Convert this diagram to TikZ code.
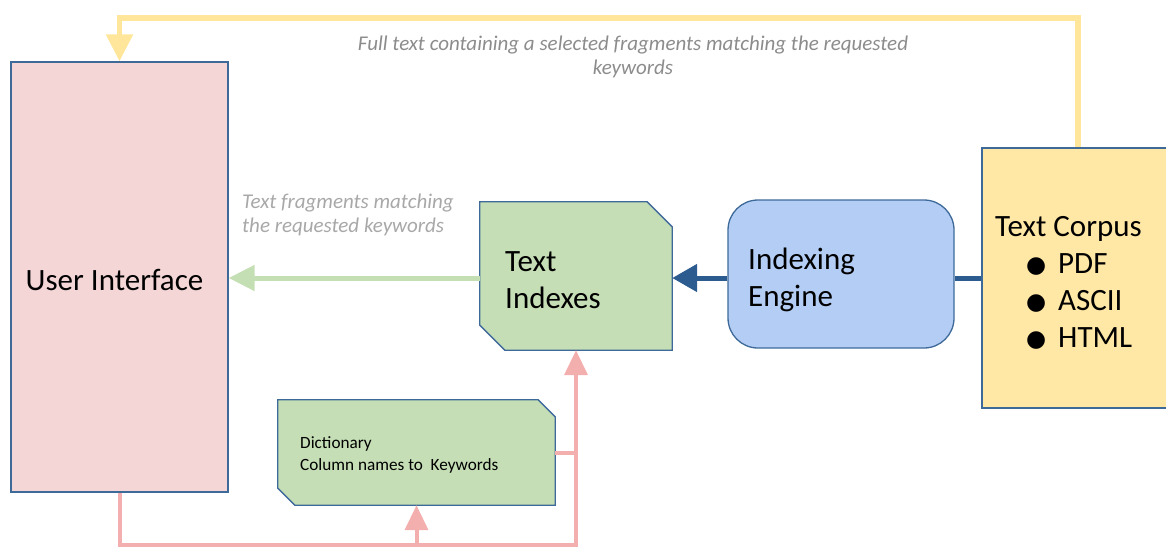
\documentclass[tikz,border=0pt]{standalone}
\usepackage{fontspec}
\setmainfont{Carlito}
\newfontfamily\symfont{DejaVu Sans}
\usetikzlibrary{arrows.meta,calc}
\pgfdeclarelayer{background}
\pgfsetlayers{background,main}

\definecolor{edgeblue}{HTML}{3E6A9A}
\definecolor{uifill}{HTML}{F5D6D6}
\definecolor{greenfill}{HTML}{C5DEB5}
\definecolor{bluefill}{HTML}{B4CDF4}
\definecolor{yellowfill}{HTML}{FFE8A6}
\definecolor{flowblue}{HTML}{2C5C8F}
\definecolor{flowgreen}{HTML}{C5DFB4}
\definecolor{flowyellow}{HTML}{FFE69A}
\definecolor{flowpink}{HTML}{F3AFAE}
\definecolor{notedark}{HTML}{8C8C8C}
\definecolor{notelight}{HTML}{A8A8A8}

\newcommand{\bigdot}{\makebox[63pt][l]{\hspace*{31pt}\raisebox{1pt}{\symfont\fontsize{23}{23}\selectfont ●}}}

\tikzset{
  bigfont/.style={font=\fontsize{31}{37}\selectfont},
  notefont/.style={font=\fontsize{21}{24}\selectfont\itshape},
  boxline/.style={draw=edgeblue, line width=1.3pt},
  uibox/.style={boxline, fill=uifill, minimum width=217pt, minimum height=430pt, inner sep=0pt},
  engbox/.style={boxline, fill=bluefill, rounded corners=30pt, minimum width=226pt, minimum height=148pt, inner sep=0pt},
  corpusbox/.style={boxline, fill=yellowfill, minimum width=192pt, minimum height=260pt, inner sep=0pt},
  snipbox/.style={inner sep=0pt},
  boxtext/.style={bigfont, align=left, inner sep=0pt, anchor=west},
  pinkflow/.style={draw=flowpink, line width=4pt},
  pinktip/.style={-{Triangle[length=25pt,width=23pt]}},
}

\begin{document}
\begin{tikzpicture}[x=1pt,y=-1pt]
\useasboundingbox (0,0) rectangle (1166,547);

% boxes
\node[uibox] (ui) at (119.5,277) {};
\node[snipbox, minimum width=192pt, minimum height=148pt] (ti) at (576,276) {};
\node[engbox] (ie) at (841,274) {};
\node[corpusbox] (tc) at (1078,278) {};
\node[snipbox, minimum width=277pt, minimum height=105pt] (dict) at (416.5,452.5) {};

% snipped-corner outlines
\begin{pgfonlayer}{background}
  \filldraw[boxline, fill=greenfill]
    (ti.north west) -- ([xshift=-25pt]ti.north east) -- ([yshift=-25pt]ti.north east)
    -- (ti.south east) -- ([xshift=25pt]ti.south west) -- ([yshift=25pt]ti.south west) -- cycle;
  \filldraw[boxline, fill=greenfill]
    (dict.north west) -- ([xshift=-17pt]dict.north east) -- ([yshift=-17pt]dict.north east)
    -- (dict.south east) -- ([xshift=17pt]dict.south west) -- ([yshift=17pt]dict.south west) -- cycle;
\end{pgfonlayer}

% box texts
\node[bigfont, inner sep=0pt] (uitext) at (114.5,280) {User Interface};
\node[boxtext] (titext) at (505,280) {Text\\Indexes};
\node[boxtext] (ietext) at (748,280) {Indexing\\Engine};
\node[boxtext] (tctext) at (995,283)
  {Text Corpus\\ \bigdot PDF\\ \bigdot ASCII\\ \bigdot HTML};
\node[align=left, font=\fontsize{17.2}{22}\selectfont, inner sep=0pt, anchor=west]
  (dicttext) at (300,455) {Dictionary\\Column names to\ \ Keywords};

% labels
\node[notefont, text=notedark, align=center, inner sep=0pt] (fulltext) at (633,57)
  {Full text containing a selected fragments matching the requested\\keywords};
\node[notefont, text=notelight, align=left, inner sep=0pt, anchor=west] (fragtext) at (242,215)
  {Text fragments matching\\the requested keywords};

% connectors
\coordinate (top) at (0,18);
\coordinate (bot) at (0,545);
\coordinate (mid) at (0,278);

\draw[flowyellow, line width=5.5pt, -{Triangle[length=27pt,width=26pt]}]
  (tc.north) -- (tc.north |- top) -- (ui.north |- top) -- (ui.north);

\draw[flowgreen, line width=5pt, -{Triangle[length=26pt,width=25pt]}]
  (ti.west |- mid) -- (ui.east |- mid);

\draw[flowblue, line width=5pt, -{Triangle[length=25pt,width=27pt]}]
  (ie.west |- mid) -- (ti.east |- mid);
\draw[flowblue, line width=5pt] (tc.west |- mid) -- (ie.east |- mid);

\draw[pinkflow, pinktip] (ui.south) -- (ui.south |- bot) -- (ti.south |- bot) -- (ti.south);
\draw[pinkflow, pinktip] (dict.south |- bot) -- (dict.south);
\draw[pinkflow] (dict.east) -- (dict.east -| ti.south);
\end{tikzpicture}
\end{document}
